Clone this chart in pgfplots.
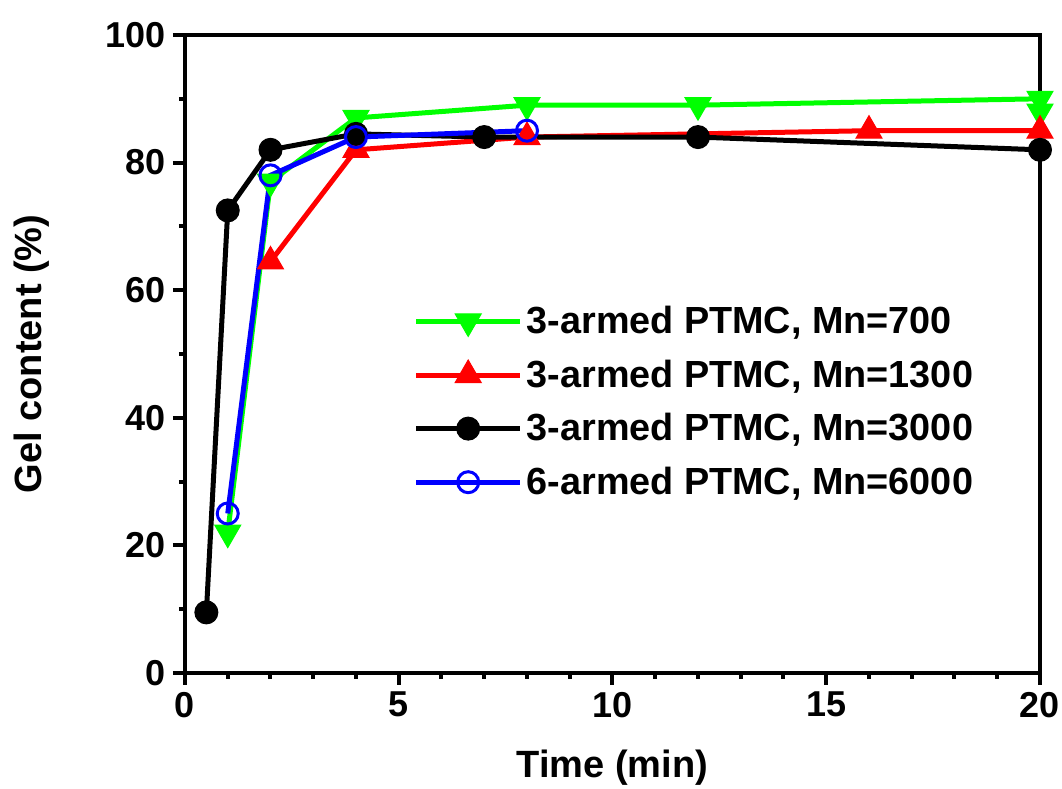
\documentclass[border=0pt]{standalone}
\usepackage{pgfplots}
\pgfplotsset{compat=1.18}
\usepackage{fontspec}
\setmainfont{Liberation Sans}
\begin{document}
\begin{tikzpicture}
\begin{axis}[
  name=ax,
  scale only axis,
  width=427.5pt, height=319pt,
  xmin=0, xmax=20, ymin=0, ymax=100,
  xtick={0,5,10,15,20}, ytick={0,20,40,60,80,100},
  minor x tick num=4, minor y tick num=1,
  tick pos=left, tick align=outside,
  major tick length=6pt, minor tick length=3pt,
  every tick/.style={line width=2pt, black},
  axis line style={line width=2pt},
  /pgf/number format/assume math mode=true,
  ticklabel style={font=\bfseries\fontsize{18}{20}\selectfont},
  xlabel={Time (min)}, ylabel={Gel content (\%)},
  label style={font=\bfseries\fontsize{19}{21}\selectfont},
  x label style={at={(axis description cs:0.5,0)}, anchor=center, yshift=-47.5pt},
  y label style={at={(axis description cs:0,0.5)}, anchor=center, rotate=0, yshift=76.5pt},
  legend style={at={(axis description cs:0.26,0.588)}, anchor=north west, draw=none, fill=none,
    font=\bfseries\fontsize{18.9}{21}\selectfont, row sep=7.6pt,
    /tikz/every even column/.append style={column sep=4pt}},
  legend cell align=left,
  legend image code/.code={\draw[mark repeat=2,mark phase=2] plot coordinates {(0pt,0pt) (26pt,0pt) (52pt,0pt)};},
  every axis plot/.append style={line width=2.5pt},
  clip=false,
]
\addplot[color={rgb,255:red,0;green,255;blue,0}, mark=triangle*, mark size=7.5pt, mark options={rotate=180, line width=0.5pt}]
  coordinates {(1,22) (2,77) (4,87) (8,89) (12,89) (20,90) (20,88)};
\addlegendentry{3-armed PTMC, Mn=700}
\addplot[color=red, mark=triangle*, mark size=7.5pt, mark options={line width=0.5pt}]
  coordinates {(2,64.5) (4,82) (8,84) (16,85) (20,85)};
\addlegendentry{3-armed PTMC, Mn=1300}
\addplot[color=black, mark=*, mark size=5.75pt, mark options={line width=0.5pt}]
  coordinates {(0.5,9.5) (1,72.5) (2,82) (4,84.5) (7,84) (12,84) (20,82)};
\addlegendentry{3-armed PTMC, Mn=3000}
\addplot[color=blue, mark=o, mark size=5.25pt, mark options={fill=white, line width=1.5pt}]
  coordinates {(1,25) (2,78) (4,84) (8,85)};
\addlegendentry{6-armed PTMC, Mn=6000}
\end{axis}
\pgfresetboundingbox
\path ([xshift=-92.5pt,yshift=-58pt]ax.south west) rectangle ([xshift=11pt,yshift=17.5pt]ax.north east);
\end{tikzpicture}
\end{document}
